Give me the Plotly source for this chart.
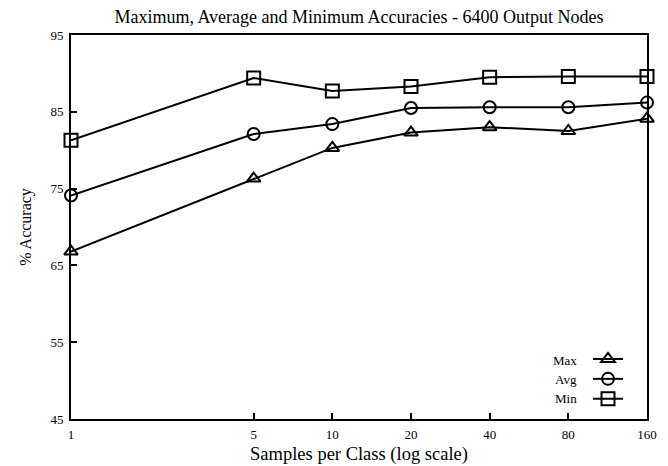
import math
import plotly.graph_objects as go

samples = [1, 5, 10, 20, 40, 80, 160]
acc_max = [66.8, 76.3, 80.3, 82.3, 83.0, 82.5, 84.1]
acc_avg = [74.1, 82.1, 83.4, 85.5, 85.6, 85.6, 86.2]
acc_min = [81.3, 89.4, 87.7, 88.3, 89.5, 89.6, 89.6]
x_ticks = [1, 5, 10, 20, 40, 80, 160]
y_ticks = [45, 55, 65, 75, 85, 95]
legend_labels = ["Max", "Avg", "Min"]

FONT = "Liberation Serif, Times New Roman, serif"

# page body has an 8px margin, so the figure is sized to fit the 668x466 window
W, H = 660, 458
L, R, T, B = 63, 21, 27, 47
PW, PH = W - L - R, H - T - B

fig = go.Figure()
series = [
    (legend_labels[0], acc_max, "triangle-up-open", 12),
    (legend_labels[1], acc_avg, "circle-open", 12),
    (legend_labels[2], acc_min, "square-open", 13),
]
for name, vals, sym, sz in series:
    fig.add_trace(go.Scatter(
        x=samples, y=vals, mode="lines+markers", name=" ",
        line=dict(color="black", width=2),
        marker=dict(symbol=sym, size=sz, color="black", line=dict(width=2, color="black")),
        cliponaxis=False,
        hovertemplate=name + ": %{y}<extra></extra>",
    ))

leg_y = 1 - (371 - T) / PH
x_lo = math.log10(min(x_ticks)) - 1e-6
x_hi = math.log10(max(x_ticks)) + 1e-6
fig.update_layout(
    width=W, height=H,
    margin=dict(l=L, r=R, t=T, b=B, autoexpand=False),
    paper_bgcolor="white", plot_bgcolor="white",
    font=dict(family=FONT, color="black", size=13),
    title=dict(text="Maximum, Average and Minimum Accuracies - 6400 Output Nodes",
               x=(L + PW / 2) / W, xanchor="center", y=1 - 2.5 / H, yanchor="top",
               pad=dict(t=0, b=0),
               font=dict(family=FONT, size=18, color="black")),
    showlegend=True,
    legend=dict(x=(580 - L) / PW, xanchor="left", y=leg_y, yanchor="middle",
                bgcolor="rgba(0,0,0,0)", font=dict(size=13), borderwidth=0),
)
fig.update_xaxes(
    type="log", range=[x_lo, x_hi], tickvals=x_ticks, ticktext=[str(v) for v in x_ticks],
    ticks="inside", ticklen=6, tickwidth=2, tickcolor="black",
    showline=True, linewidth=2, linecolor="black", mirror=True,
    showgrid=False, zeroline=False, ticklabelstandoff=2,
    title=dict(text="Samples per Class (log scale)", font=dict(size=18.5), standoff=6),
)
fig.update_yaxes(
    range=[45, 95], tickvals=y_ticks,
    ticks="inside", ticklen=6, tickwidth=2, tickcolor="black",
    showline=True, linewidth=2, linecolor="black", mirror=True,
    showgrid=False, zeroline=False, ticklabelstandoff=3,
    title=dict(text="% Accuracy", font=dict(size=16), standoff=15),
)

# Legend labels placed to the left of the legend symbols
for i, name in enumerate(legend_labels):
    fig.add_annotation(xref="paper", yref="paper", x=(571 - L) / PW,
                       y=leg_y + (1 - i) * 19 / PH,
                       text=name, showarrow=False, xanchor="right", yanchor="middle",
                       font=dict(size=13))

fig.write_html("out.html")
